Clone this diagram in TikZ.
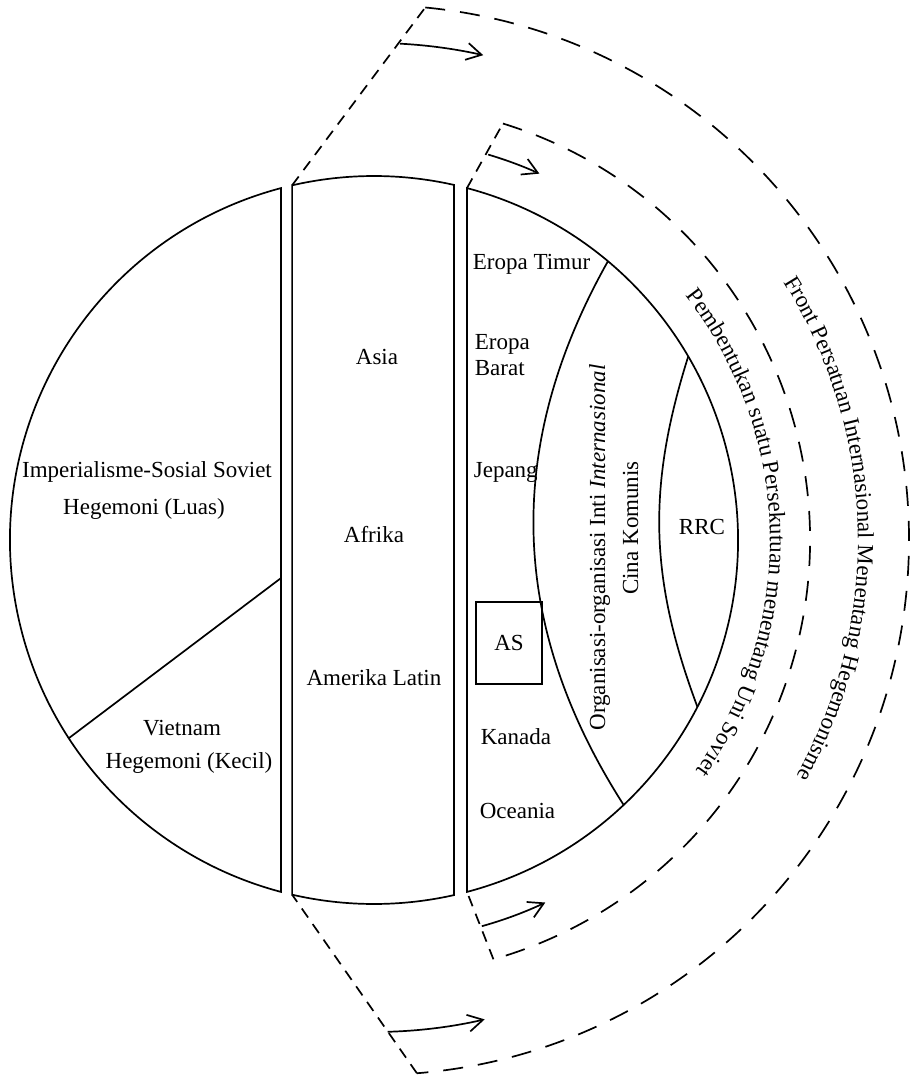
\documentclass[tikz,border=0pt]{standalone}
\usepackage{fontspec}
\setmainfont{Liberation Serif}
\usepackage{tikz}
\usetikzlibrary{arrows.meta}
\usetikzlibrary{decorations.text}
\newcommand{\lblfont}{\fontsize{23}{27}\selectfont}

\begin{document}
\begin{tikzpicture}[x=1pt, y=1pt, line width=1.7pt,
	every node/.style={font=\lblfont, inner sep=1pt},
	rim/.style={dash pattern=on 20pt off 15pt},
	edge/.style={dash pattern=on 11pt off 8pt},
	sweep/.style={-{Straight Barb[length=15pt,width=17pt,line width=1.7pt]}},
	arctext/.style={decorate, decoration={text along path, text align=center, text={|\lblfont|#1}}}]
	\useasboundingbox (-374,-537) rectangle (536,540);
	% corners of the strips and of the dashed brackets
	\coordinate (mtl) at (103:364);
	\coordinate (mbl) at (257:364);
	\coordinate (rtl) at (75.2:364);
	\coordinate (rbl) at (-75.2:364);
	\coordinate (otop) at (84.5:535);
	\coordinate (obot) at (-85.4:535);
	\coordinate (itop) at (72.8:436);
	\coordinate (ibot) at (-74.1:436);
	% three strips of the circle
	\draw (104.8:364) arc[start angle=104.8, end angle=255.2, radius=364] -- cycle;
	\draw (77.3:364) arc[start angle=77.3, end angle=103, radius=364] -- (mbl) arc[start angle=257, end angle=282.7, radius=364] -- cycle;
	\draw (rbl) arc[start angle=-75.2, end angle=75.2, radius=364] -- cycle;
	\draw (-92.9,-38) -- (213:364);
	\draw (50:364) to[bend right=31] (-46.7:364);
	\draw (30.3:364) to[bend right=19] (-27.3:364);
	% dashed brackets
	\draw[edge] (mtl) -- (otop);
	\draw[rim] (otop) arc[start angle=84.5, end angle=-85.4, radius=535];
	\draw[edge] (obot) -- (mbl);
	\draw[edge] (rtl) -- (itop);
	\draw[rim] (itop) arc[start angle=72.8, end angle=-74.1, radius=436];
	\draw[edge] (ibot) -- (rbl);
	% arrows
	\draw[sweep] (87:497) arc[start angle=87, end angle=77.3, radius=497];
	\draw[sweep] (73.5:402) arc[start angle=73.5, end angle=65.7, radius=402];
	\draw[sweep] (-74.4:401) arc[start angle=-74.4, end angle=-64.7, radius=401];
	\draw[sweep] (-88.4:492) arc[start angle=-88.4, end angle=-77, radius=492];
	% labels
	\node[anchor=base] (imp) at (-227,63) {Imperialisme-Sosial Soviet};
	\node[anchor=base] (luas) at (-230,26) {Hegemoni (Luas)};
	\node[anchor=base] (viet) at (-192,-195) {Vietnam};
	\node[anchor=base] (kecil) at (-185,-228) {Hegemoni (Kecil)};
	\node[anchor=base] (asia) at (3,176) {Asia};
	\node[anchor=base] (afrika) at (0,-2) {Afrika};
	\node[anchor=base] (amlat) at (0,-145) {Amerika Latin};
	\node[anchor=base west] (eptim) at (97,270) {Eropa Timur};
	\node[anchor=base west] (eropa) at (99,191) {Eropa};
	\node[anchor=base west] (barat) at (99,165) {Barat};
	\node[anchor=base west] (jepang) at (98,63) {Jepang};
	\node[draw, minimum width=66pt, minimum height=82pt] (as) at (135,-103) {AS};
	\node[anchor=base west] (kanada) at (105,-204) {Kanada};
	\node[anchor=base west] (oceania) at (104,-278) {Oceania};
	\node[rotate=90, anchor=base] (org) at (231,-7.5) {Organisasi-organisasi Inti \textit{Internasional}};
	\node[rotate=90, anchor=base] (cina) at (264,12) {Cina Komunis};
	\node[anchor=base] (rrc) at (328,6) {RRC};
	\path[arctext={Pembentukan suatu Persekutuan menentang Uni Soviet}] (51.2:396) arc[start angle=51.2, end angle=-48.8, radius=396];
	\path[arctext={Front Persatuan Internasional Menentang Hegemonisme}] (46.5:484) arc[start angle=46.5, end angle=-43.5, radius=484];
\end{tikzpicture}
\end{document}
